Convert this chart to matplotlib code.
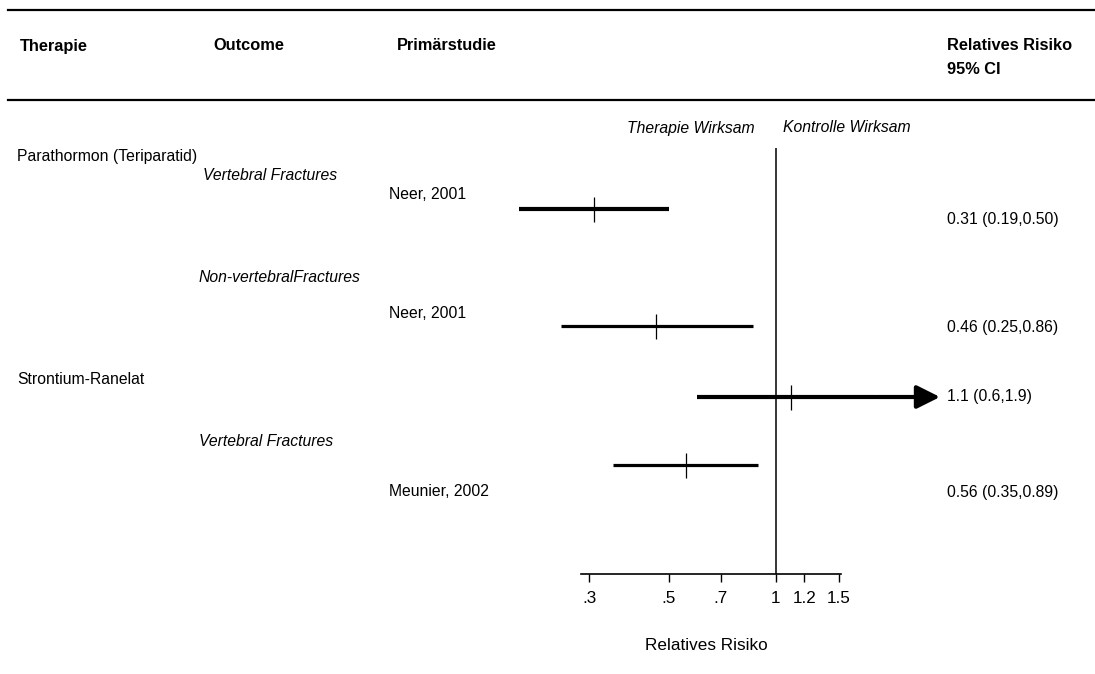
import numpy as np
import matplotlib
matplotlib.use("Agg")
import matplotlib.pyplot as plt
from matplotlib.ticker import FixedLocator, FixedFormatter, NullLocator

plt.rcParams['font.family'] = ['Liberation Sans', 'DejaVu Sans']

# relative risk with 95% CI per study
studies = ["Neer, 2001", "Neer, 2001", None, "Meunier, 2002"]
rr = [0.31, 0.46, 1.1, 0.56]
ci_lo = [0.19, 0.25, 0.6, 0.35]
ci_hi = [0.50, 0.86, 1.9, 0.89]
rr_labels = ["0.31 (0.19,0.50)", "0.46 (0.25,0.86)", "1.1 (0.6,1.9)", "0.56 (0.35,0.89)"]

therapies = ["Parathormon (Teriparatid)", "Strontium-Ranelat"]
outcomes = ["Vertebral Fractures", "Non-vertebralFractures", "Vertebral Fractures"]

tick_vals = [0.3, 0.5, 0.7, 1, 1.2, 1.5]
tick_text = [".3", ".5", ".7", "1", "1.2", "1.5"]

W, H = 1095, 674
fig = plt.figure(figsize=(W / 100, H / 100), dpi=100)

def fx(px):
    return px / W

def fy(py):
    return 1 - py / H

FS = 11.3
HFS = 11.8

# header rules
for yy, lw in [(10, 1.6), (100, 1.6)]:
    fig.add_artist(plt.Line2D([fx(8), 1], [fy(yy), fy(yy)], color='black', lw=lw))

hdr = dict(fontsize=HFS, va='center', fontweight='bold')
fig.text(fx(20), fy(46), "Therapie", **hdr)
fig.text(fx(213), fy(46), "Outcome", **hdr)
fig.text(fx(397), fy(46), "Primärstudie", **hdr)
fig.text(fx(947), fy(46), "Relatives Risiko", **hdr)
fig.text(fx(947), fy(69), "95% CI", **hdr)

# left columns
fig.text(fx(17), fy(157), therapies[0], fontsize=FS, va='center')
fig.text(fx(17), fy(380), therapies[1], fontsize=FS, va='center')
for (x, y), o in zip([(203, 176), (199, 277), (199, 441)], outcomes):
    fig.text(fx(x), fy(y), o, fontsize=FS, va='center', style='italic')
for y, s in zip([195, 313, None, 491], studies):
    if s:
        fig.text(fx(389), fy(y), s, fontsize=FS, va='center')
for y, s in zip([220, 327, 397, 492], rr_labels):
    fig.text(fx(947), fy(y), s, fontsize=FS, va='center')

fig.text(fx(755), fy(128), "Therapie Wirksam", fontsize=FS, va='center', ha='right', style='italic')
fig.text(fx(783), fy(128), "Kontrolle Wirksam", fontsize=FS, va='center', style='italic')
fig.text(fx(706), fy(645), "Relatives Risiko", fontsize=12.3, va='center', ha='center')

# forest panel, log scale; 1 px per y unit from the top
x0, x1, ytop, ybot = 581, 841, 148, 574
scale = 155.0
ax = fig.add_axes([fx(x0), fy(ybot), (x1 - x0) / W, (ybot - ytop) / H])
ax.set_xscale('log')
ax.set_xlim(np.exp((x0 - 776) / scale), np.exp((x1 - 776) / scale))
ax.set_ylim(ybot, ytop)
ax.set_facecolor('none')
for s in ['top', 'left', 'right']:
    ax.spines[s].set_visible(False)
ax.spines['bottom'].set_linewidth(1.2)
ax.set_yticks([])
ax.xaxis.set_major_locator(FixedLocator(tick_vals))
ax.xaxis.set_major_formatter(FixedFormatter(tick_text))
ax.xaxis.set_minor_locator(NullLocator())
ax.tick_params(axis='x', direction='out', length=6, width=1.0, pad=6, labelsize=12.3)

ax.axvline(1, color='black', lw=1.1)

row_y = [209, 326, 397, 465]
row_lw = [3.0, 2.3, 3.0, 2.3]
for y, r, lo, hi, lw in zip(row_y, rr, ci_lo, ci_hi, row_lw):
    ax.plot([lo, hi], [y, y], color='black', lw=lw, solid_capstyle='butt', clip_on=False)
    ax.plot([r], [y], marker='|', color='black', markersize=18, markeredgewidth=0.9, clip_on=False)

# CI past the axis range: arrow out toward the label
ax.annotate("", xy=(fx(940), fy(row_y[2])), xycoords='figure fraction',
            xytext=(ci_hi[2], row_y[2]), textcoords='data',
            arrowprops=dict(arrowstyle='-|>,head_length=1.4,head_width=0.7',
                            color='black', lw=3.0, shrinkA=0, shrinkB=0))

fig.savefig("out.png", dpi=100)
